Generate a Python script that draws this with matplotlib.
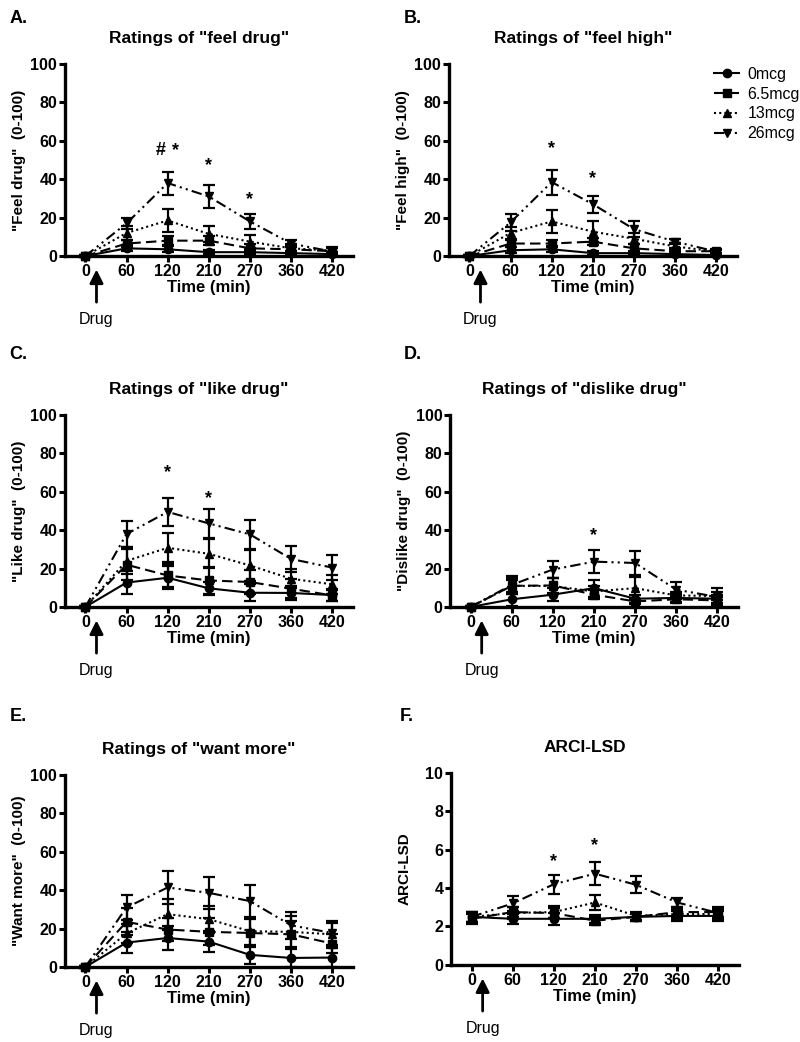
import numpy as np
import matplotlib
matplotlib.use("Agg")
import matplotlib.pyplot as plt
from matplotlib.lines import Line2D

plt.rcParams['font.family'] = ['Liberation Sans', 'DejaVu Sans']

# x categories (evenly spaced, as in the original figure)
times = ['0', '60', '120', '210', '270', '360', '420']
doses = ['0mcg', '6.5mcg', '13mcg', '26mcg']

# rows: 0, 6.5, 13, 26 mcg
feel_drug_mean = [[0, 4, 3.5, 2, 2, 1.5, 1],
                  [0, 6.5, 8, 8, 4, 3.5, 2.5],
                  [0, 12, 18.5, 11.5, 7.5, 4, 2.8],
                  [0, 17, 38, 31, 18, 6.5, 2.3]]
feel_drug_se = [[0.5, 1.5, 1.5, 1.2, 1.2, 1, 1],
                [0.5, 2, 2.5, 2.5, 2, 2, 1.5],
                [0.5, 3.5, 6, 4, 3.5, 2, 1.5],
                [0.5, 3, 6, 5.8, 3.7, 2, 2.5]]

feel_high_mean = [[0, 3, 3.5, 1.5, 1.5, 1, 0.5],
                  [0, 6.5, 6.5, 7.5, 4, 2.5, 2.5],
                  [0, 12, 18, 12.7, 9, 5, 2.3],
                  [0, 17.5, 38.5, 27, 14, 7.5, 2.3]]
feel_high_se = [[0.5, 1.5, 1.5, 1, 1, 1, 0.5],
                [0.5, 2, 2, 2, 2, 1.5, 1],
                [0.5, 3, 6, 5.5, 3, 2, 1],
                [0.5, 4.5, 6.5, 4.5, 4, 1.5, 1]]

like_drug_mean = [[0, 12.7, 15.2, 9.7, 7.4, 7.3, 6.2],
                  [0, 22, 16.4, 13.8, 13, 9.5, 6],
                  [0, 24, 30.8, 27.7, 21.6, 14.7, 11.8],
                  [0, 38, 49.5, 43.5, 37.8, 25, 20.5]]
like_drug_se = [[0.5, 6, 6, 3.5, 4.5, 3.5, 3],
                [0.5, 8, 6, 7, 6, 5, 3],
                [0.5, 7, 7.5, 7.5, 8, 5, 5],
                [0.5, 7, 7.5, 7.5, 7.5, 6.8, 6.6]]

dislike_drug_mean = [[0, 4, 6.4, 9.8, 4.3, 4.7, 4.3],
                     [0, 11, 11.2, 6.4, 2.9, 4, 3.4],
                     [0, 11, 10.9, 8.1, 9.8, 6, 5.7],
                     [0, 11.5, 19.5, 23.6, 22.9, 9, 5.2]]
dislike_drug_se = [[0.5, 3.5, 3.5, 4.5, 2, 2, 2],
                   [0.5, 4, 4, 2.5, 1.5, 2, 2],
                   [0.5, 3, 4, 3, 6, 2, 2],
                   [0.5, 4.5, 4.6, 6, 6, 4, 4.8]]

want_more_mean = [[0, 12.7, 15.1, 13.2, 6.3, 4.7, 4.9],
                  [0, 23.5, 19.5, 18.3, 17.7, 17, 12.2],
                  [0, 17.5, 27.5, 24.9, 18.6, 18.3, 17],
                  [0, 31, 41.4, 38.6, 34.3, 21.7, 17.7]]
want_more_se = [[0.5, 5.5, 6, 5.5, 4.5, 4.7, 4.9],
                [0.5, 7, 6, 7, 7.5, 7, 5],
                [0.5, 5, 8, 7, 7, 8, 6],
                [0.5, 6.5, 8.5, 8.5, 8.5, 7, 6.5]]

arci_lsd_mean = [[2.5, 2.4, 2.4, 2.4, 2.5, 2.55, 2.55],
                 [2.4, 2.75, 2.7, 2.3, 2.5, 2.75, 2.75],
                 [2.5, 2.7, 2.75, 3.25, 2.55, 2.65, 2.65],
                 [2.5, 3.2, 4.2, 4.75, 4.17, 3.25, 2.7]]
arci_lsd_se = [[0.25, 0.25, 0.3, 0.2, 0.2, 0.25, 0.25],
               [0.25, 0.25, 0.25, 0.2, 0.2, 0.25, 0.25],
               [0.25, 0.3, 0.3, 0.4, 0.2, 0.25, 0.25],
               [0.25, 0.38, 0.5, 0.6, 0.45, 0.25, 0.25]]

panels = [
    ('A.', 'Ratings of "feel drug"', '"Feel drug"  (0-100)', feel_drug_mean, feel_drug_se, 100,
     [(1.82, 55, '#'), (2.2, 55, '*'), (3, 47, '*'), (4, 29.5, '*')]),
    ('B.', 'Ratings of "feel high"', '"Feel high"  (0-100)', feel_high_mean, feel_high_se, 100,
     [(2, 56, '*'), (3, 40.5, '*')]),
    ('C.', 'Ratings of "like drug"', '"Like drug"  (0-100)', like_drug_mean, like_drug_se, 100,
     [(2, 70, '*'), (3, 56.5, '*')]),
    ('D.', 'Ratings of "dislike drug"', '"Dislike drug"  (0-100)', dislike_drug_mean, dislike_drug_se, 100,
     [(3, 37, '*')]),
    ('E.', 'Ratings of "want more"', '"Want more"  (0-100)', want_more_mean, want_more_se, 100, []),
    ('F.', 'ARCI-LSD', 'ARCI-LSD', arci_lsd_mean, arci_lsd_se, 10,
     [(2, 5.4, '*'), (3, 6.2, '*')]),
]

styles = [('-', 'o'),
          ((0, (5, 2.5)), 's'),
          ((0, (1, 1.5)), '^'),
          ((0, (5, 2, 1, 2, 1, 2)), 'v')]

axes_pos = [(0.081, 0.7543), (0.561, 0.7543),
            (0.081, 0.4175), (0.5625, 0.4175),
            (0.081, 0.072), (0.5637, 0.074)]
letter_pos = [(0.012, 0.99), (0.505, 0.99),
              (0.012, 0.668), (0.505, 0.668),
              (0.012, 0.321), (0.5, 0.321)]

fig = plt.figure(figsize=(8, 10.42), dpi=100)
x = np.arange(len(times))

for i, (letter, title, ylab, mean, se, ymax, marks) in enumerate(panels):
    ax = fig.add_axes([axes_pos[i][0], axes_pos[i][1], 0.36, 0.1843])
    for d in range(len(doses)):
        ls, mk = styles[d]
        ax.errorbar(x, mean[d], yerr=se[d], color='black', linestyle=ls, marker=mk,
                    markersize=6, linewidth=1.5, elinewidth=1.6, capsize=4.5,
                    capthick=1.6, zorder=3 + d, clip_on=False)
    ax.set_xlim(-0.5, 6.5)
    ax.set_ylim(0, ymax)
    ax.set_yticks(np.linspace(0, ymax, 6))
    ax.set_xticks(x)
    ax.set_xticklabels(times)
    for s in ['top', 'right']:
        ax.spines[s].set_visible(False)
    for s in ['left', 'bottom']:
        ax.spines[s].set_linewidth(2.4)
    ax.tick_params(axis='both', width=2.2, length=4, labelsize=11.5, pad=1.5)
    for lab in ax.get_xticklabels() + ax.get_yticklabels():
        lab.set_fontweight('bold')
    ax.set_xlabel('Time (min)', fontsize=12, fontweight='bold', labelpad=1)
    ax.set_ylabel(ylab, fontsize=11, fontweight='bold')
    ax.yaxis.set_label_coords(-0.135, 0.5)
    ax.set_title(title, fontsize=12.5, fontweight='bold', pad=15, x=0.465)
    for px, py, t in marks:
        ax.text(px, py, t, ha='center', va='center', fontsize=13, fontweight='bold')
    ax.annotate('Drug', xy=(0.27, -0.07), xycoords=('data', 'axes fraction'),
                xytext=(0.27, -0.33), textcoords=('data', 'axes fraction'),
                ha='center', va='center', fontsize=11.5,
                arrowprops=dict(arrowstyle='-|>,head_width=0.35,head_length=0.7',
                                color='black', lw=2, shrinkA=5, shrinkB=0),
                annotation_clip=False)
    fig.text(letter_pos[i][0], letter_pos[i][1], letter, fontsize=13,
             fontweight='bold', va='top', ha='left')

    if i == 1:
        handles = [Line2D([], [], color='black', linestyle=styles[d][0], marker=styles[d][1],
                          markersize=6, linewidth=1.5) for d in range(len(doses))]
        ax.legend(handles, doses, loc='upper left', bbox_to_anchor=(0.87, 1.06),
                  frameon=False, fontsize=11.5, handlelength=1.6, handletextpad=0.5,
                  labelspacing=0.3)

fig.savefig('out.png', dpi=100)
